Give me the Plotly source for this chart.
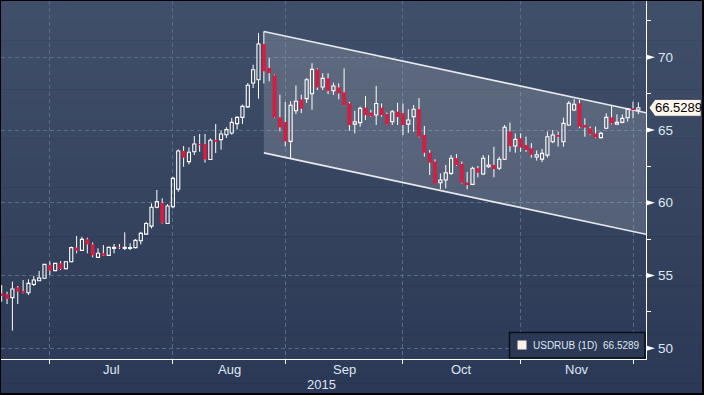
import numpy as np
import pandas as pd
import plotly.graph_objects as go

# ---------------- data ----------------
dates = pd.bdate_range("2015-06-18", "2015-12-02")  # trading days (120)

opens = [53.78, 53.73, 53.48, 54.19, 53.94, 53.82, 54.39, 54.64, 54.81, 55.72,
         55.34, 55.84, 55.47, 55.95, 56.92, 56.73, 57.49, 57.14, 56.25, 56.53,
         56.39, 56.87, 56.94, 56.87, 56.87, 56.92, 57.39, 57.85, 58.40, 59.69,
         59.98, 58.58, 59.73, 60.94, 63.56, 62.83, 63.51, 64.04, 64.04, 62.98,
         64.32, 64.34, 64.68, 64.80, 65.44, 65.87, 66.59, 68.23, 68.46, 70.91,
         69.26, 68.76, 65.87, 65.55, 64.22, 66.33, 67.09, 67.16, 67.50, 69.17,
         67.96, 68.55, 67.70, 67.93, 67.59, 66.83, 65.41, 65.51, 66.54, 66.20,
         66.03, 66.54, 66.10, 65.57, 66.26, 66.15, 65.41, 65.92, 66.43, 64.66,
         63.44, 62.83, 61.38, 61.57, 62.02, 63.06, 62.67, 61.40, 61.27, 62.37,
         61.98, 62.48, 62.60, 62.37, 62.99, 64.90, 63.90, 64.43, 63.97, 63.74,
         63.15, 63.00, 63.28, 64.20, 64.66, 64.20, 65.35, 66.38, 66.84, 65.35,
         65.12, 64.77, 64.48, 65.12, 65.87, 65.41, 65.53, 65.85, 66.49, 66.38]

highs = [54.35, 53.89, 54.58, 54.28, 54.69, 54.74, 54.97, 55.31, 55.79, 55.97,
         55.84, 56.00, 56.00, 56.99, 57.72, 57.67, 57.60, 57.28, 56.87, 57.10,
         56.99, 57.17, 57.17, 57.97, 57.22, 57.51, 58.01, 58.70, 59.96, 60.88,
         60.31, 59.91, 61.79, 63.67, 63.90, 63.81, 64.59, 64.73, 64.73, 64.43,
         65.42, 64.96, 65.19, 65.83, 65.95, 66.75, 68.23, 69.49, 71.67, 71.78,
         69.95, 68.81, 67.43, 66.93, 66.98, 68.06, 67.43, 68.57, 69.60, 69.24,
         68.90, 68.90, 68.25, 68.21, 69.24, 66.94, 66.33, 66.61, 67.33, 66.38,
         68.03, 66.83, 66.20, 66.38, 66.88, 66.83, 66.43, 66.72, 67.20, 65.28,
         63.63, 62.99, 62.02, 62.60, 63.28, 63.35, 62.83, 62.13, 62.48, 62.53,
         63.28, 63.28, 63.85, 63.17, 65.35, 65.51, 64.77, 64.77, 64.55, 64.10,
         63.60, 63.70, 64.89, 65.00, 64.89, 65.85, 67.00, 67.13, 67.07, 65.80,
         65.24, 65.24, 64.89, 66.15, 66.68, 66.08, 66.08, 66.49, 66.95, 66.90]

lows = [53.20, 53.04, 51.21, 53.04, 53.78, 53.67, 54.28, 54.64, 54.76, 55.04,
        55.31, 55.38, 55.42, 55.91, 56.53, 56.69, 56.53, 56.25, 56.23, 56.34,
        56.37, 56.53, 56.82, 56.75, 56.75, 56.87, 57.14, 57.83, 58.24, 59.62,
        58.58, 58.54, 59.62, 60.76, 62.48, 62.64, 63.28, 63.51, 62.76, 62.94,
        63.42, 63.65, 64.45, 64.68, 65.03, 65.42, 66.52, 67.89, 67.16, 68.20,
        68.35, 65.83, 64.91, 63.88, 63.08, 66.10, 66.17, 66.86, 66.40, 67.75,
        67.75, 67.47, 67.41, 67.11, 66.70, 64.95, 64.77, 65.23, 65.69, 65.90,
        65.35, 65.92, 65.35, 65.35, 65.35, 64.65, 64.81, 64.88, 64.50, 63.17,
        61.91, 61.33, 60.93, 61.00, 61.91, 62.55, 61.33, 60.93, 61.22, 61.75,
        61.91, 62.41, 61.75, 62.25, 62.94, 63.51, 63.44, 63.51, 63.50, 63.10,
        62.90, 62.80, 63.10, 64.10, 63.86, 63.86, 65.30, 66.31, 65.12, 64.54,
        64.66, 64.43, 64.43, 65.07, 65.39, 65.39, 65.46, 65.58, 65.80, 66.10]

closes = [53.60, 53.39, 54.08, 53.89, 53.82, 54.46, 54.69, 54.83, 55.77, 55.34,
          55.84, 55.45, 55.95, 56.92, 56.71, 57.49, 57.14, 56.39, 56.53, 56.37,
          56.94, 56.94, 56.90, 56.94, 56.92, 57.42, 57.90, 58.58, 59.69, 60.08,
          58.63, 59.78, 61.68, 63.56, 63.10, 63.47, 64.04, 63.97, 62.98, 64.30,
          64.20, 64.73, 65.03, 65.53, 65.87, 66.63, 68.08, 69.15, 70.91, 69.04,
          68.92, 65.87, 65.19, 64.22, 66.70, 66.98, 66.47, 68.46, 69.17, 67.93,
          68.55, 67.70, 68.03, 67.52, 66.72, 65.35, 65.57, 66.49, 66.03, 65.95,
          66.83, 66.03, 65.37, 66.26, 65.90, 65.35, 65.69, 66.43, 64.55, 63.44,
          62.76, 61.34, 61.57, 62.07, 63.06, 62.60, 61.38, 61.22, 62.37, 62.07,
          63.06, 62.60, 62.32, 62.99, 65.19, 63.90, 64.36, 63.80, 63.63, 63.30,
          63.30, 63.40, 64.54, 64.66, 64.54, 65.46, 66.84, 66.77, 65.24, 65.17,
          64.71, 64.48, 64.77, 65.87, 65.46, 65.53, 65.80, 66.44, 66.38, 66.5289]

ticker_label = "USDRUB (1D)"
last_price_text = "66.5289"
y_major = [50, 55, 60, 65, 70]
y_minor = [52.5, 57.5, 62.5, 67.5, 72.5]
year_label = "2015"

# trend channel (drawn annotation): start trading-day index, top/bottom price, slope per day
channel_start = 49
channel_top = 71.78
channel_bottom = 63.43
channel_slope = -0.0783

# ---------------- styling ----------------
W, H = 704, 395
ML, MR, MT, MB = 1, 58, 1, 36
PW, PH = W - ML - MR, H - MT - MB
X_RANGE = [-0.13, 120.43]
Y_RANGE = [49.265, 73.87]
RED = "#d41f42"
GRID = "rgb(84,110,138)"
TXT = "#dde7f2"
FONT = "Liberation Sans, Arial, sans-serif"


def px2x(px):
    return (px - ML) / PW


def py2y(py):
    return (MT + PH - py) / PH


o = np.array(opens); h = np.array(highs); l = np.array(lows); c = np.array(closes)
n = len(o)
xi = np.arange(n)
top = np.maximum(o, c)
bot = np.minimum(o, c)
body = np.maximum(top - bot, 0.05)
up = c >= o
dn = ~up

# wicks (outside the bodies)
wx, wy = [], []
for i in range(n):
    if h[i] > top[i]:
        wx += [xi[i], xi[i], None]; wy += [h[i], top[i], None]
    if l[i] < bot[i]:
        wx += [xi[i], xi[i], None]; wy += [bot[i], l[i], None]

fig = go.Figure()
fig.add_trace(go.Scatter(x=wx, y=wy, mode="lines", line=dict(color="white", width=1),
                         hoverinfo="skip", showlegend=False))
fig.add_trace(go.Bar(x=xi[up], y=body[up], base=bot[up], width=0.58,
                     marker=dict(color="rgba(0,0,0,0)", line=dict(color="white", width=1.1)),
                     hoverinfo="skip", showlegend=False))
fig.add_trace(go.Bar(x=xi[dn], y=body[dn], base=bot[dn], width=0.62,
                     marker=dict(color=RED, line=dict(color=RED, width=0.6)),
                     hoverinfo="skip", showlegend=False))

shapes = []
# background gradient
top_rgb = np.array([65, 80, 106]); bot_rgb = np.array([44, 57, 86])
nb = 40
y_a, y_b = 1, 393
for k in range(nb):
    ya = y_a + (y_b - y_a) * k / nb
    yb = y_a + (y_b - y_a) * (k + 1) / nb + 0.6
    col = top_rgb + (bot_rgb - top_rgb) * (k + 0.5) / nb
    shapes.append(dict(type="rect", xref="paper", yref="paper",
                       x0=px2x(1), x1=px2x(702), y0=py2y(min(yb, y_b)), y1=py2y(ya),
                       fillcolor="rgb(%d,%d,%d)" % tuple(col.astype(int)),
                       line=dict(width=0), layer="below"))

# channel
x1 = X_RANGE[1]
t1 = channel_top + channel_slope * (x1 - channel_start)
b1 = channel_bottom + channel_slope * (x1 - channel_start)
shapes.append(dict(type="path", xref="x", yref="y",
                   path=f"M {channel_start},{channel_top} L {x1},{t1} L {x1},{b1} L {channel_start},{channel_bottom} Z",
                   fillcolor="rgba(255,255,255,0.16)", line=dict(width=0), layer="between"))
for y0, y1 in [(channel_top, t1), (channel_bottom, b1)]:
    shapes.append(dict(type="line", xref="x", yref="y", x0=channel_start, x1=x1, y0=y0, y1=y1,
                       line=dict(color="rgba(240,240,245,0.95)", width=1.6), layer="between"))

# y-axis arrow ticks
u = (Y_RANGE[1] - Y_RANGE[0]) / PH  # price units per pixel
for v in y_major:
    shapes.append(dict(type="path", xref="paper", yref="y",
                       path=f"M {px2x(646)},{v + 2.7*u} L {px2x(655)},{v} L {px2x(646)},{v - 2.7*u} Z",
                       fillcolor="white", line=dict(width=0), layer="above"))

# last price tag
lp = closes[-1]
hh = 8.4 * u
shapes.append(dict(type="path", xref="paper", yref="y",
                   path=(f"M {px2x(649)},{lp} L {px2x(655)},{lp + hh} L {px2x(701)},{lp + hh} "
                         f"L {px2x(701)},{lp - hh} L {px2x(655)},{lp - hh} Z"),
                   fillcolor="#fff7ee", line=dict(color="#1a2233", width=0.6), layer="above"))

# legend box
shapes.append(dict(type="rect", xref="paper", yref="paper",
                   x0=px2x(509.5), x1=px2x(645), y0=py2y(358), y1=py2y(332.5),
                   fillcolor="rgb(44,57,84)", line=dict(color="#0b0f18", width=1.5), layer="above"))
shapes.append(dict(type="rect", xref="paper", yref="paper",
                   x0=px2x(517.5), x1=px2x(526.5), y0=py2y(349.5), y1=py2y(340.5),
                   fillcolor="#fbefe9", line=dict(width=0), layer="above"))

annotations = []
for v in y_major:
    annotations.append(dict(xref="paper", yref="y", x=px2x(656), y=v, text=str(v),
                            showarrow=False, xanchor="left", yanchor="middle",
                            font=dict(family=FONT, size=13.5, color=TXT)))
annotations.append(dict(xref="paper", yref="y", x=px2x(678), y=lp, text=last_price_text,
                        showarrow=False, xanchor="center", yanchor="middle",
                        font=dict(family=FONT, size=13, color="#000000")))

# month labels between month boundaries
month_idx = [i for i in range(1, n) if dates[i].month != dates[i - 1].month]
for a, b in zip(month_idx[:-1], month_idx[1:]):
    annotations.append(dict(xref="x", yref="paper", x=(a + b) / 2, y=py2y(369),
                            text=dates[a].strftime("%b"), showarrow=False,
                            xanchor="center", yanchor="middle",
                            font=dict(family=FONT, size=13, color=TXT)))
annotations.append(dict(xref="x", yref="paper", x=59.8, y=py2y(384), text=year_label,
                        showarrow=False, xanchor="center", yanchor="middle",
                        font=dict(family=FONT, size=13, color=TXT)))
annotations.append(dict(xref="paper", yref="paper", x=px2x(531), y=py2y(345.5),
                        text=f"{ticker_label}  {last_price_text}", showarrow=False,
                        xanchor="left", yanchor="middle",
                        font=dict(family=FONT, size=10, color=TXT)))

fig.update_layout(
    width=W, height=H,
    margin=dict(l=ML, r=MR, t=MT, b=MB, pad=0),
    paper_bgcolor="black", plot_bgcolor="rgba(0,0,0,0)",
    barmode="overlay", showlegend=False,
    shapes=shapes, annotations=annotations,
    xaxis=dict(range=X_RANGE, tickvals=month_idx, showticklabels=False,
               ticks="outside", ticklen=4, tickcolor="white", tickwidth=1,
               showgrid=True, gridcolor=GRID, griddash="4px,3px", gridwidth=1,
               showline=True, linecolor="white", linewidth=1.2, zeroline=False,
               fixedrange=True),
    yaxis=dict(side="right", range=Y_RANGE, tickvals=y_major, showticklabels=False,
               ticks="", showgrid=True, gridcolor=GRID, griddash="4px,3px", gridwidth=1,
               showline=True, linecolor="white", linewidth=1.2, zeroline=False,
               minor=dict(tickvals=y_minor, ticks="outside", ticklen=4,
                          tickcolor="white", showgrid=False),
               fixedrange=True),
)

fig.write_html("out.html", config={"displayModeBar": False},
               post_script="document.body.style.margin='0';document.body.style.padding='0';"
                           "document.body.style.overflow='hidden';")
